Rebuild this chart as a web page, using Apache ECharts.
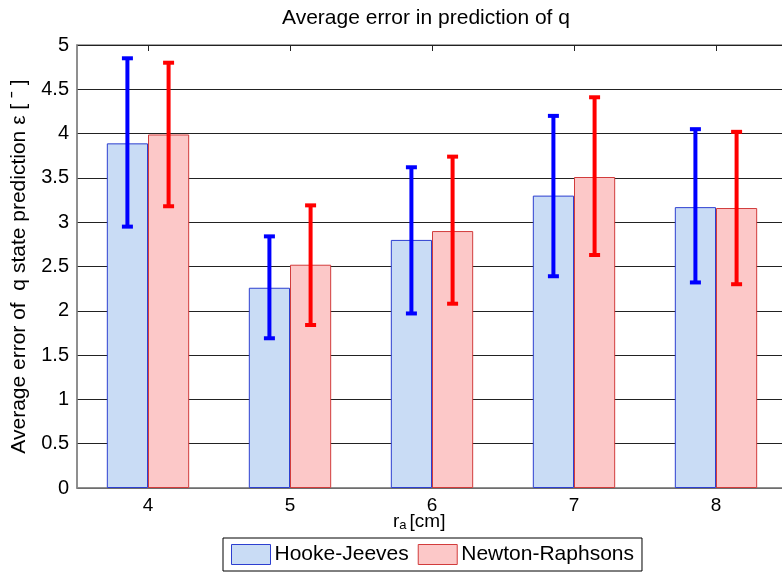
<!DOCTYPE html>
<html>
<head>
<meta charset="utf-8">
<script src="https://cdn.jsdelivr.net/npm/echarts@6/dist/echarts.min.js"></script>
<style>
html,body{margin:0;padding:0;background:#fff;overflow:hidden;width:782px;height:576px;}
#chart{width:787px;height:576px;}
</style>
</head>
<body>
<div id="chart"></div>
<script>
var categories = ['4', '5', '6', '7', '8'];
var hookeValues = [3.89, 2.26, 2.80, 3.30, 3.17];
var newtonValues = [3.99, 2.52, 2.90, 3.51, 3.16];
var hookeLow = [2.95, 1.69, 1.97, 2.39, 2.32];
var hookeHigh = [4.85, 2.84, 3.62, 4.20, 4.05];
var newtonLow = [3.18, 1.84, 2.08, 2.63, 2.30];
var newtonHigh = [4.80, 3.19, 3.74, 4.41, 4.02];

var FONT = '"Liberation Sans", Arial, sans-serif';
var CAT_GAP = 0.42;

function errData(low, high) {
  return categories.map(function (c, i) { return [i, low[i], high[i]]; });
}
function errRender(side, color) {
  return function (params, api) {
    var idx = api.value(0);
    var band = api.size([1, 0])[0];
    var barW = band * (1 - CAT_GAP) / 2;
    var lo = api.coord([idx, api.value(1)]);
    var hi = api.coord([idx, api.value(2)]);
    var x = lo[0] + side * barW / 2;
    var cap = 5.5;
    var st = { stroke: color, lineWidth: 4 };
    return {
      type: 'group',
      children: [
        { type: 'line', shape: { x1: x, y1: hi[1], x2: x, y2: lo[1] }, style: st },
        { type: 'line', shape: { x1: x - cap, y1: hi[1], x2: x + cap, y2: hi[1] }, style: st },
        { type: 'line', shape: { x1: x - cap, y1: lo[1], x2: x + cap, y2: lo[1] }, style: st }
      ]
    };
  };
}

var chart = echarts.init(document.getElementById('chart'));
chart.setOption({
  backgroundColor: '#fff',
  animation: false,
  textStyle: { fontFamily: FONT },
  title: {
    text: 'Average error in prediction of q',
    left: 421, top: 3, textAlign: 'center',
    textStyle: { fontFamily: FONT, fontSize: 21, fontWeight: 'normal', color: '#000' }
  },
  grid: {
    left: 77, right: 0, top: 45, bottom: 88,
    show: true, borderColor: '#888', borderWidth: 1.5, backgroundColor: 'transparent'
  },
  legend: {
    left: 223, top: 538,
    orient: 'horizontal',
    backgroundColor: '#fff',
    borderColor: '#000', borderWidth: 1, borderRadius: 0,
    padding: [6, 8, 6, 8],
    itemWidth: 39, itemHeight: 20, itemGap: 9,
    icon: 'rect',
    itemStyle: { borderWidth: 1 },
    textStyle: { fontFamily: FONT, fontSize: 21, color: '#000', padding: [0, 0, 0, -1] },
    data: ['Hooke-Jeeves', 'Newton-Raphsons']
  },
  xAxis: [{
    type: 'category',
    data: categories,
    position: 'bottom',
    axisLine: { show: true, lineStyle: { color: '#888', width: 1.5 } },
    axisTick: { show: true, inside: true, alignWithLabel: true, length: 6, lineStyle: { color: '#222' } },
    axisLabel: { fontFamily: FONT, fontSize: 19, color: '#000', margin: 8 }
  }, {
    type: 'category',
    data: categories,
    position: 'top',
    axisLine: { show: false },
    axisTick: { show: true, inside: true, alignWithLabel: true, length: 6, lineStyle: { color: '#222' } },
    axisLabel: { show: false }
  }],
  yAxis: {
    type: 'value',
    min: 0, max: 5, interval: 0.5,
    name: 'Average error of  q state prediction \u03b5 [ \u02c9 ]',
    nameLocation: 'middle',
    nameGap: 47,
    nameTextStyle: { fontFamily: FONT, fontSize: 21, color: '#000' },
    axisLine: { show: true, lineStyle: { color: '#888', width: 1.5 } },
    axisTick: { show: false },
    axisLabel: { fontFamily: FONT, fontSize: 20, color: '#000', margin: 8 },
    splitLine: { show: true, lineStyle: { color: '#222', width: 1 } }
  },
  graphic: [{
    type: 'text',
    left: 393, top: 512,
    style: {
      text: '{r|r}{s|a}{n|[cm]}',
      rich: {
        r: { fontFamily: FONT, fontSize: 19, fill: '#000' },
        s: { fontFamily: FONT, fontSize: 13, fill: '#000', verticalAlign: 'bottom', padding: [7, 3, 0, 0] },
        n: { fontFamily: FONT, fontSize: 19, fill: '#000' }
      }
    }
  }],
  series: [{
    name: 'Hooke-Jeeves',
    type: 'bar',
    data: hookeValues,
    barGap: '0%',
    barCategoryGap: '42%',
    itemStyle: { color: '#c9dcf5', borderColor: '#2d3fd0', borderWidth: 1 },
    z: 2
  }, {
    name: 'Newton-Raphsons',
    type: 'bar',
    data: newtonValues,
    barGap: '0%',
    barCategoryGap: '42%',
    itemStyle: { color: '#fcc8c8', borderColor: '#d23c3c', borderWidth: 1 },
    z: 2
  }, {
    name: 'Hooke err',
    type: 'custom',
    data: errData(hookeLow, hookeHigh),
    renderItem: errRender(-1, '#0000ff'),
    encode: { x: 0, y: [1, 2] },
    z: 5
  }, {
    name: 'Newton err',
    type: 'custom',
    data: errData(newtonLow, newtonHigh),
    renderItem: errRender(1, '#ff0000'),
    encode: { x: 0, y: [1, 2] },
    z: 5
  }]
});
</script>
</body>
</html>
